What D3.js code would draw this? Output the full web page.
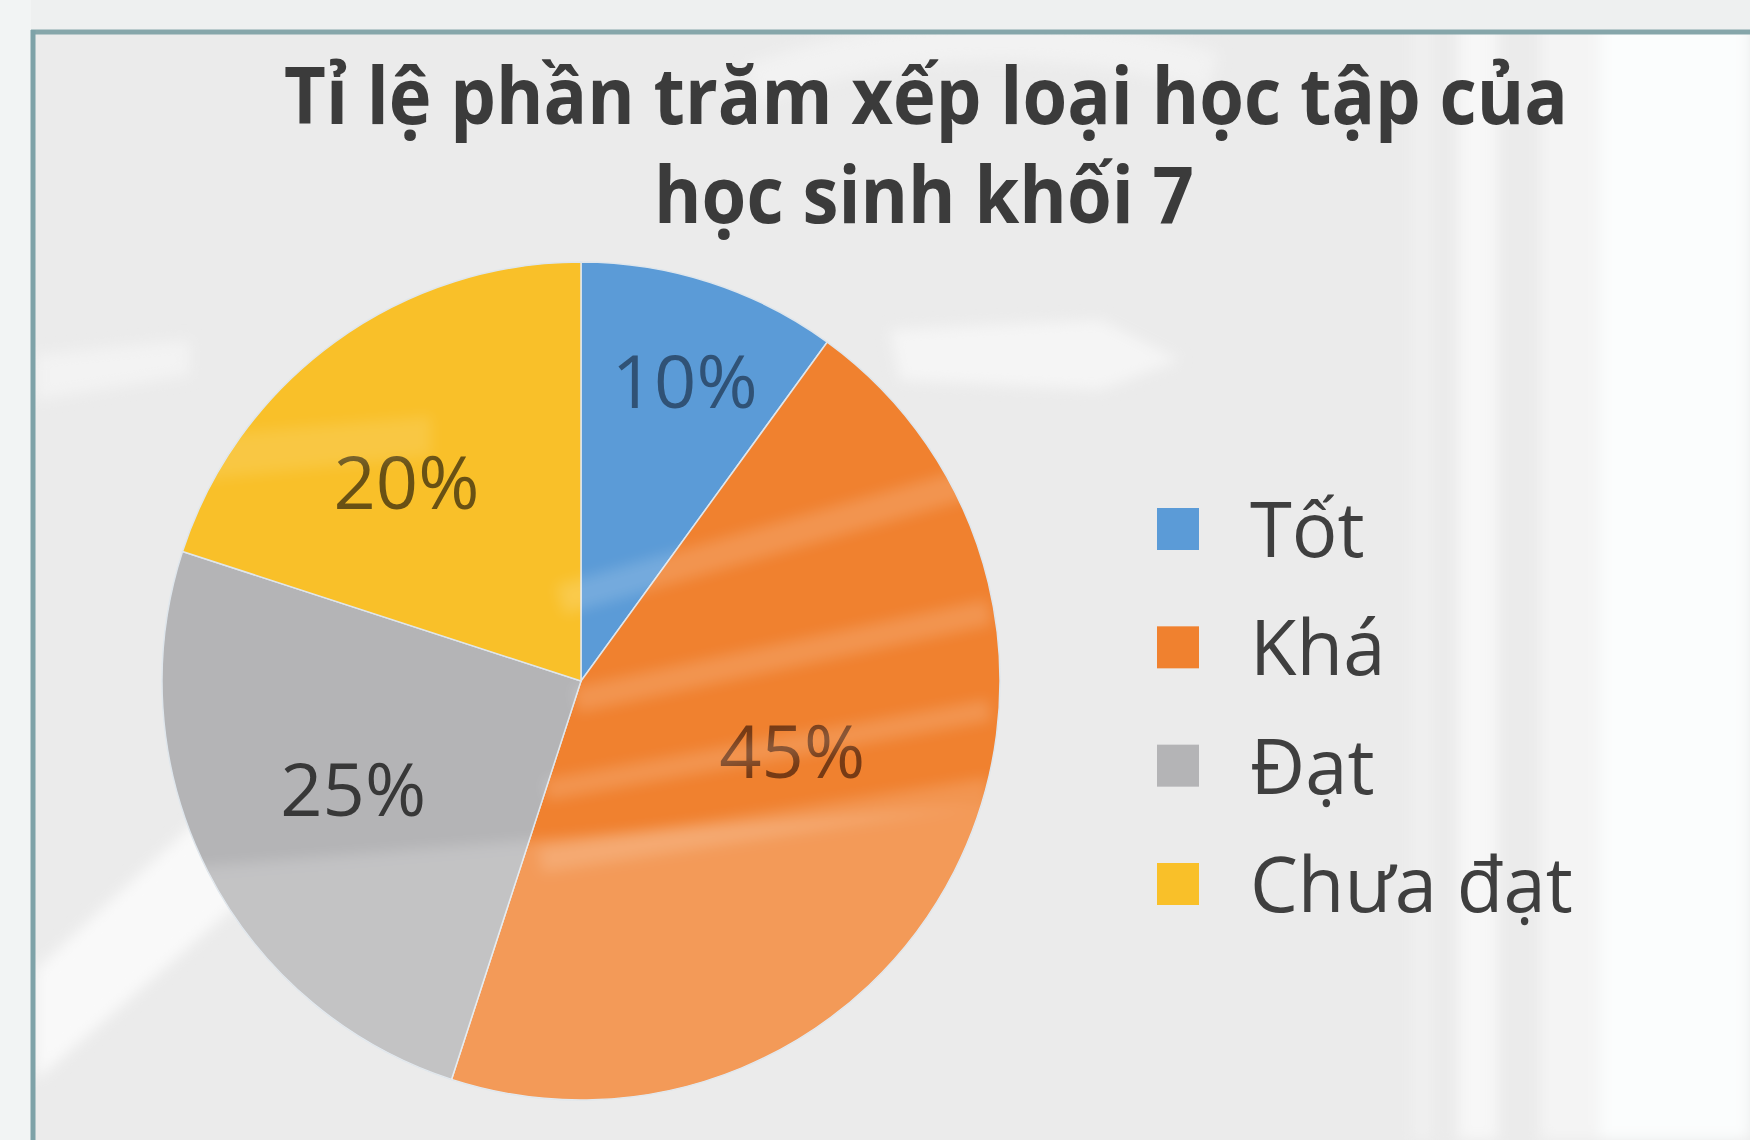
<!DOCTYPE html>
<html lang="vi">
<head>
<meta charset="utf-8">
<script src="https://cdn.jsdelivr.net/npm/d3@7/dist/d3.min.js"></script>
<style>
  html, body { margin: 0; padding: 0; background: #ececec; }
  svg { display: block; }
</style>
</head>
<body>
<svg id="chart" width="1750" height="1140"></svg>
<script>
// Xếp loại học tập của học sinh khối 7 (phần trăm)
const categories = ["Tốt", "Khá", "Đạt", "Chưa đạt"];
const percents = [10, 45, 25, 20];
const titleLines = ["Tỉ lệ phần trăm xếp loại học tập của", "học sinh khối 7"];

const colors = ["#5b9bd7", "#f0812f", "#b4b4b6", "#f9c029"];
const labelColors = ["#2c4b6c", "#6a3312", "#2b2b2b", "#5a4612"];

const W = 1750, H = 1140;
const svg = d3.select("#chart");
const defs = svg.append("defs");
defs.append("filter").attr("id", "soft").attr("x", "-20%").attr("y", "-20%").attr("width", "140%").attr("height", "140%")
  .append("feGaussianBlur").attr("stdDeviation", 7);

// ---- backdrop: pale grey page with soft white sweeping bands
const bg = svg.append("g");
bg.append("rect").attr("width", W).attr("height", H).attr("fill", "#ebebeb");
const bgSoft = bg.append("g").attr("filter", "url(#soft)");
bgSoft.append("rect").attr("x", 1600).attr("y", 0).attr("width", W - 1600).attr("height", H).attr("fill", "#fbfdfd");
bgSoft.append("rect").attr("x", 1458).attr("y", 0).attr("width", 40).attr("height", H).attr("fill", "#f7f7f7");
bgSoft.append("rect").attr("x", 1412).attr("y", 0).attr("width", 20).attr("height", H).attr("fill", "#f0f0f0");
bgSoft.append("rect").attr("x", 1540).attr("y", 0).attr("width", 60).attr("height", H).attr("fill", "#f4f4f4");
// diagonal light sweeps on the left
bgSoft.append("path").attr("d", "M36,1080 L36,970 L230,790 L300,850 Z").attr("fill", "#f9f9f9");
bgSoft.append("path").attr("d", "M36,400 L36,355 L190,340 L190,375 Z").attr("fill", "#f3f3f3");
// faint arcs near the top and to the right of the pie
const arcBg = d3.arc();
bgSoft.append("path")
  .attr("transform", "translate(1000,760)")
  .attr("d", arcBg({innerRadius: 700, outerRadius: 740, startAngle: -0.35, endAngle: 0.3}))
  .attr("fill", "#f2f2f2");
bgSoft.append("path").attr("d", "M890,330 L1100,320 L1180,360 L1100,390 L900,380 Z").attr("fill", "#f5f5f5");

// ---- frame
svg.append("rect").attr("x", 0).attr("y", 0).attr("width", W).attr("height", 30).attr("fill", "#eef0f0");
svg.append("rect").attr("x", 0).attr("y", 0).attr("width", 31).attr("height", H).attr("fill", "#f2f4f4");
svg.append("line").attr("x1", 31).attr("x2", W).attr("y1", 32).attr("y2", 32)
  .attr("stroke", "#86a6aa").attr("stroke-width", 5);
svg.append("line").attr("x1", 33).attr("x2", 33).attr("y1", 30).attr("y2", H)
  .attr("stroke", "#7ea2a8").attr("stroke-width", 5);

// ---- title
const title = svg.append("g").attr("font-family", "'Open Sans', sans-serif")
  .attr("font-weight", 700).attr("fill", "#3b3b3b").attr("text-anchor", "middle");
const titleW = [1284, 540];
const titleY = d3.scalePoint().domain(titleLines).range([124, 223]);
title.selectAll("text").data(titleLines).join("text")
  .attr("x", (d, i) => i === 0 ? 926 : 924)
  .attr("y", d => titleY(d))
  .attr("font-size", 78)
  .attr("textLength", (d, i) => titleW[i])
  .attr("lengthAdjust", "spacingAndGlyphs")
  .text(d => d);

// ---- pie
const cx = 581, cy = 681, R = 419;
const pie = d3.pie().sort(null).value(d => d)(percents);
const arc = d3.arc().innerRadius(0).outerRadius(R);
const color = d3.scaleOrdinal().domain(categories).range(colors);

defs.append("clipPath").attr("id", "pieClip")
  .append("circle").attr("cx", cx).attr("cy", cy).attr("r", R);

const pg = svg.append("g").attr("transform", `translate(${cx},${cy})`);
pg.selectAll("path.slice").data(pie).join("path")
  .attr("class", "slice")
  .attr("d", arc)
  .attr("fill", (d, i) => color(categories[i]))
  .attr("stroke", "#dfe6ec").attr("stroke-width", 1.5);

// soft light streaks across the slices
const sheen = svg.append("g").attr("clip-path", "url(#pieClip)")
  .append("g").attr("filter", "url(#soft)");
sheen.append("path").attr("d", `M${cx - 440},${cy + 190} L${cx + 440},${cy + 120} L${cx + 440},${cy + 460} L${cx - 440},${cy + 460} Z`)
  .attr("fill", "#ffffff").attr("opacity", 0.2);
[[560, 600, 980, 480, 30], [575, 700, 990, 612, 26], [545, 790, 990, 710, 22], [540, 860, 990, 790, 26]]
  .forEach(([x1, y1, x2, y2, w]) => {
    sheen.append("line").attr("x1", x1).attr("y1", y1).attr("x2", x2).attr("y2", y2)
      .attr("stroke", "#ffffff").attr("stroke-width", w).attr("opacity", 0.16);
  });
sheen.append("path").attr("d", `M${cx - 440},${cy - 240} L${cx - 150},${cy - 265} L${cx - 150},${cy - 225} L${cx - 440},${cy - 195} Z`)
  .attr("fill", "#ffffff").attr("opacity", 0.12);

// ---- data labels (radius fraction, angular nudge in degrees)
const labelPlace = [[0.76, 1], [0.53, -9], [0.6, 2], [0.635, -5]];
pg.selectAll("text.lbl").data(pie).join("text")
  .attr("class", "lbl")
  .attr("transform", (d, i) => {
    const [f, nudge] = labelPlace[i];
    const a = (d.startAngle + d.endAngle) / 2 + nudge * Math.PI / 180;
    const r = R * f;
    return `translate(${r * Math.sin(a)},${-r * Math.cos(a)})`;
  })
  .attr("text-anchor", "middle")
  .attr("dominant-baseline", "central")
  .attr("font-family", "'Open Sans', sans-serif")
  .attr("font-size", 74)
  .attr("fill", (d, i) => labelColors[i])
  .attr("opacity", 0.9)
  .text(d => d.data + "%");

// ---- legend
const ly = d3.scalePoint().domain(categories).range([529, 884]);
const lg = svg.append("g");
const items = lg.selectAll("g").data(categories).join("g")
  .attr("transform", d => `translate(1157,${ly(d)})`);
items.append("rect").attr("x", 0).attr("y", -21).attr("width", 42).attr("height", 42)
  .attr("fill", d => color(d));
items.append("text").attr("x", 93).attr("y", 28)
  .attr("font-family", "'Open Sans', sans-serif")
  .attr("font-size", 76).attr("fill", "#3f3f3f")
  .text(d => d);
</script>
</body>
</html>
